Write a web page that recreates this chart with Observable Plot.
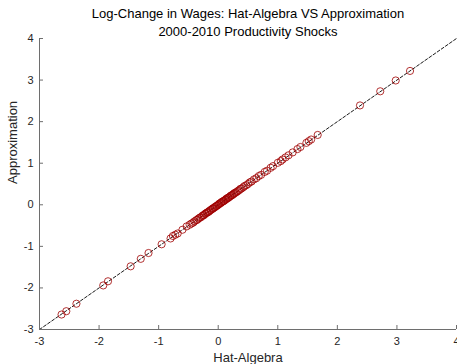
<!DOCTYPE html>
<html><head><meta charset="utf-8">
<script src="https://cdn.jsdelivr.net/npm/d3@7"></script>
<script src="https://cdn.jsdelivr.net/npm/@observablehq/plot@0.6"></script>
<style>body{margin:0;background:#fff}</style>
</head><body><div id="chart"></div>
<script>
const titleLines = ["Log-Change in Wages: Hat-Algebra VS Approximation", "2000-2010 Productivity Shocks"];
const xLabel = "Hat-Algebra";
const yLabel = "Approximation";
const xTicks = [-3, -2, -1, 0, 1, 2, 3, 4];
const yTicks = [-3, -2, -1, 0, 1, 2, 3, 4];
const diagonal = [-3, 4];
const hatAlgebra = [-2.63,-2.55,-2.38,-1.93,-1.85,-1.47,-1.30,-1.17,-0.95,-0.80,-0.76,-0.72,-0.68,-0.60,-0.53,-0.48,
  -0.45,-0.42,-0.40,-0.37,-0.35,-0.33,-0.31,-0.29,-0.27,-0.25,-0.24,-0.22,-0.21,-0.19,-0.18,-0.16,-0.15,-0.13,-0.12,-0.10,-0.09,-0.08,-0.06,-0.05,-0.03,-0.02,
  0.00,0.01,0.02,0.04,0.05,0.06,0.08,0.09,0.10,0.12,0.13,0.14,0.16,0.17,0.18,0.20,0.21,0.23,0.24,0.26,0.27,0.29,0.31,0.33,0.35,0.37,0.39,0.42,0.44,0.47,0.50,0.53,0.56,
  0.60,0.64,0.68,0.72,0.78,0.82,0.88,0.92,1.00,1.05,1.08,1.13,1.18,1.25,1.33,1.38,1.48,1.52,1.56,1.67,2.38,2.72,2.98,3.22];
const approximation = [-2.64,-2.56,-2.38,-1.94,-1.84,-1.48,-1.30,-1.16,-0.95,-0.81,-0.75,-0.72,-0.69,-0.60,-0.52,-0.48,
  -0.45,-0.43,-0.40,-0.37,-0.36,-0.33,-0.31,-0.30,-0.27,-0.25,-0.25,-0.22,-0.21,-0.19,-0.18,-0.17,-0.15,-0.13,-0.12,-0.10,-0.09,-0.08,-0.06,-0.05,-0.03,-0.02,
  0.00,0.01,0.03,0.04,0.05,0.07,0.08,0.09,0.10,0.12,0.13,0.15,0.16,0.17,0.18,0.20,0.22,0.23,0.24,0.26,0.28,0.29,0.31,0.33,0.35,0.38,0.39,0.42,0.45,0.47,0.50,0.54,0.56,
  0.61,0.64,0.69,0.72,0.79,0.82,0.89,0.93,1.01,1.05,1.09,1.14,1.19,1.26,1.34,1.39,1.49,1.53,1.57,1.68,2.39,2.73,2.99,3.22];

const points = hatAlgebra.map((h, i) => ({hat: h, approx: approximation[i]}));
const diagLine = diagonal.map(v => ({x: v, y: v}));

const W = 457, H = 364, mT = 38, mB = 35, mL = 39, mR = 1;
const axisColor = "#6e6e6e";
const font = "'Liberation Sans', Arial, Helvetica, sans-serif";
const fmt = d => String(d);

const chart = Plot.plot({
  width: W, height: H,
  marginTop: mT, marginBottom: mB, marginLeft: mL, marginRight: mR,
  style: {fontFamily: font, fontSize: "11px", color: "#262626", background: "#fff", overflow: "visible"},
  x: {domain: [-3, 4]},
  y: {domain: [-3, 4]},
  marks: [
    Plot.line(diagLine, {x: "x", y: "y", stroke: "#000", strokeWidth: 0.9, strokeDasharray: "3,2"}),
    Plot.dot(points, {x: "hat", y: "approx", r: 3.6, stroke: "#a00000", strokeWidth: 0.8, fill: "none"}),
    Plot.ruleY([-3], {stroke: axisColor, strokeWidth: 1}),
    Plot.ruleX([-3], {stroke: axisColor, strokeWidth: 1}),
    Plot.axisX({ticks: xTicks, tickFormat: () => "", tickSize: 4, dy: -4, label: null, stroke: axisColor}),
    Plot.axisY({ticks: yTicks, tickFormat: () => "", tickSize: 4, dx: 4, label: null, stroke: axisColor}),
    Plot.axisX({ticks: xTicks, tickFormat: fmt, tickSize: 0, tickPadding: 8, label: null, fontSize: 11, fill: "#262626"}),
    Plot.axisY({ticks: yTicks, tickFormat: fmt, tickSize: 0, tickPadding: 6, label: null, fontSize: 11, fill: "#262626"}),
    Plot.text([xLabel], {frameAnchor: "bottom", dy: 28, lineAnchor: "middle", fontSize: 13, fill: "#262626"}),
    Plot.text([yLabel], {frameAnchor: "left", dx: -27, rotate: -90, lineAnchor: "middle", fontSize: 13, fill: "#262626"}),
    Plot.text([titleLines[0]], {frameAnchor: "top", dy: -25, lineAnchor: "middle", fontSize: 13, fill: "#000"}),
    Plot.text([titleLines[1]], {frameAnchor: "top", dy: -7, lineAnchor: "middle", fontSize: 13, fill: "#000"})
  ]
});
document.getElementById("chart").appendChild(chart);
</script>
</body></html>
